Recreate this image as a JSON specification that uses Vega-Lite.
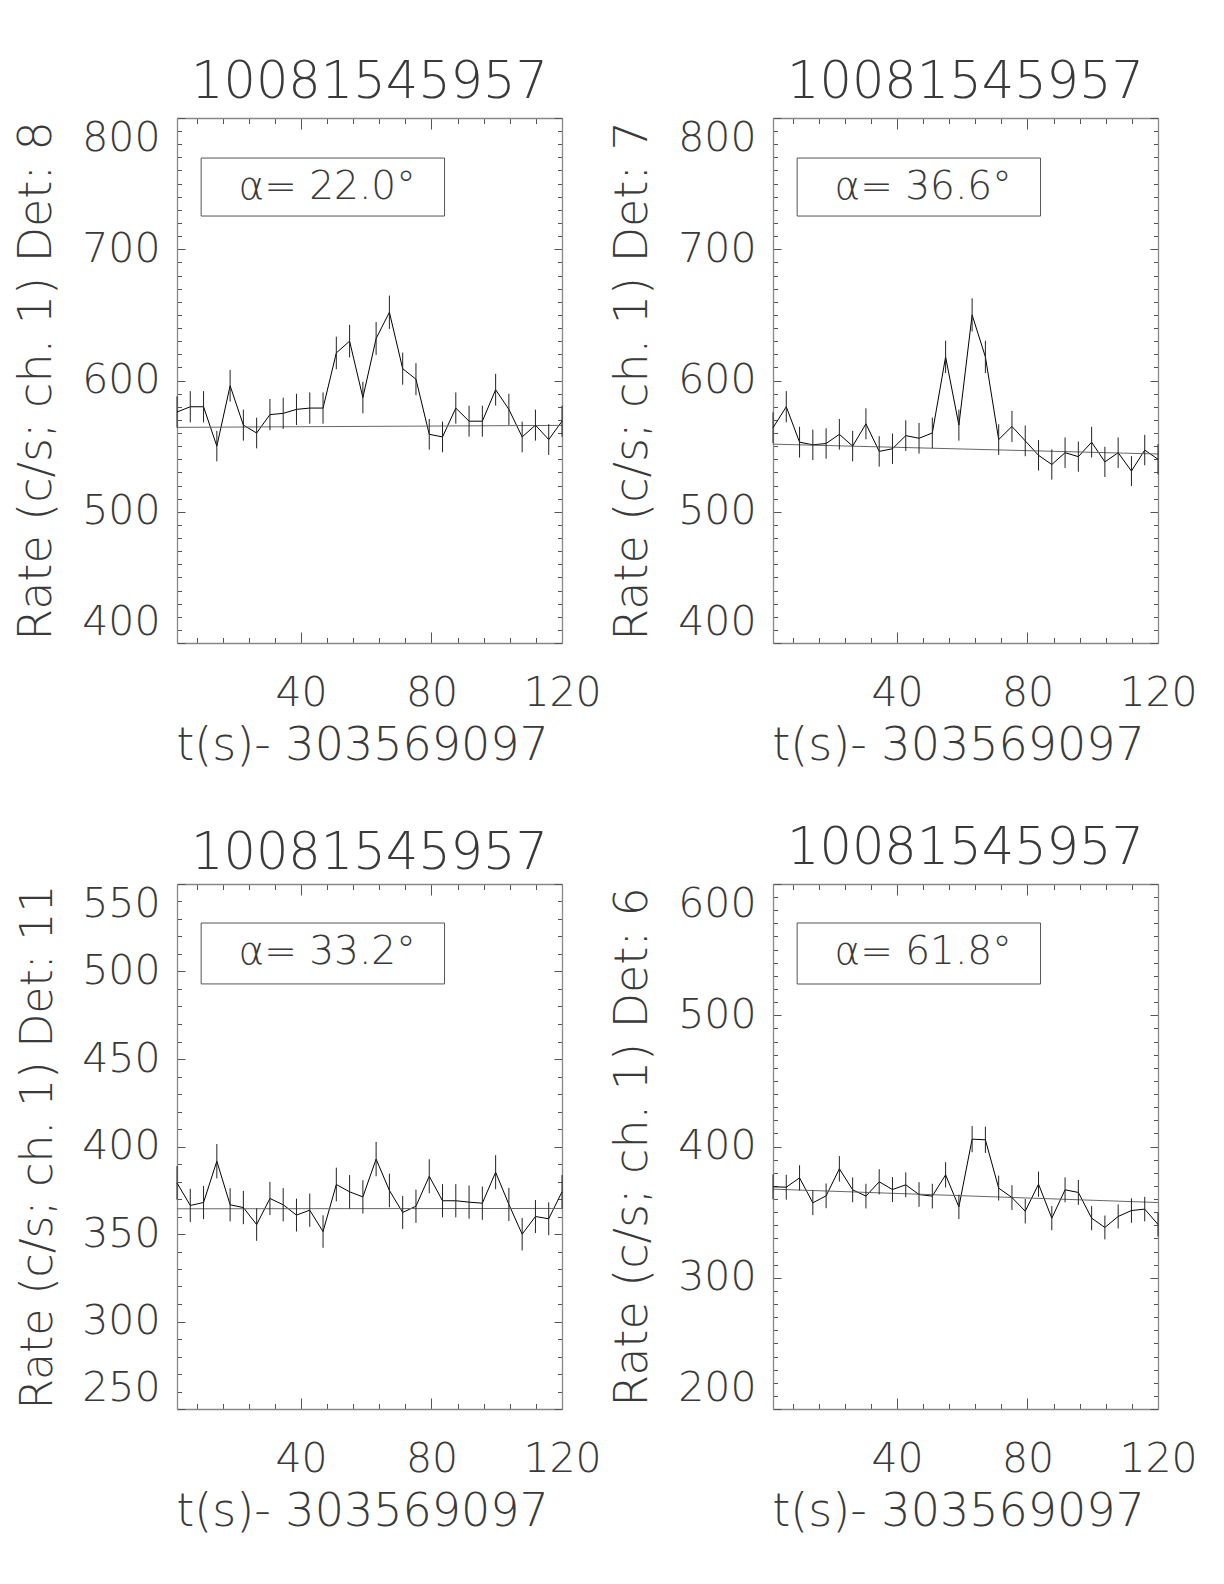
{
  "$schema": "https://vega.github.io/schema/vega-lite/v6.json",
  "padding": {"left": 13, "top": 57, "right": 5, "bottom": 5},
  "background": "white",
  "datasets": {
    "d8": [
      {"t": 2, "rate": 576, "err": 11.9}, {"t": 6.07, "rate": 580, "err": 11.9}, {"t": 10.14, "rate": 580, "err": 11.9},
      {"t": 14.21, "rate": 550, "err": 11.6}, {"t": 18.28, "rate": 596, "err": 12.1}, {"t": 22.34, "rate": 566, "err": 11.8},
      {"t": 26.41, "rate": 560, "err": 11.7}, {"t": 30.48, "rate": 574, "err": 11.9}, {"t": 34.55, "rate": 575, "err": 11.9},
      {"t": 38.62, "rate": 578, "err": 11.9}, {"t": 42.69, "rate": 579, "err": 11.9}, {"t": 46.76, "rate": 579, "err": 11.9},
      {"t": 50.83, "rate": 621, "err": 12.4}, {"t": 54.9, "rate": 630, "err": 12.4}, {"t": 58.97, "rate": 587, "err": 12.0},
      {"t": 63.03, "rate": 632, "err": 12.5}, {"t": 67.1, "rate": 652, "err": 12.7}, {"t": 71.17, "rate": 609, "err": 12.2},
      {"t": 75.24, "rate": 601, "err": 12.2}, {"t": 79.31, "rate": 559, "err": 11.7}, {"t": 83.38, "rate": 557, "err": 11.7},
      {"t": 87.45, "rate": 579, "err": 11.9}, {"t": 91.52, "rate": 569, "err": 11.8}, {"t": 95.59, "rate": 569, "err": 11.8},
      {"t": 99.66, "rate": 593, "err": 12.1}, {"t": 103.72, "rate": 578, "err": 11.9}, {"t": 107.79, "rate": 557, "err": 11.7},
      {"t": 111.86, "rate": 566, "err": 11.8}, {"t": 115.93, "rate": 555, "err": 11.7}, {"t": 120, "rate": 569, "err": 11.8}
    ],
    "d7": [
      {"t": 2, "rate": 564, "err": 11.8}, {"t": 6.07, "rate": 580, "err": 11.9}, {"t": 10.14, "rate": 553, "err": 11.7},
      {"t": 14.21, "rate": 551, "err": 11.6}, {"t": 18.28, "rate": 552, "err": 11.6}, {"t": 22.34, "rate": 559, "err": 11.7},
      {"t": 26.41, "rate": 550, "err": 11.6}, {"t": 30.48, "rate": 567, "err": 11.8}, {"t": 34.55, "rate": 546, "err": 11.6},
      {"t": 38.62, "rate": 548, "err": 11.6}, {"t": 42.69, "rate": 558, "err": 11.7}, {"t": 46.76, "rate": 556, "err": 11.7},
      {"t": 50.83, "rate": 560, "err": 11.7}, {"t": 54.9, "rate": 618, "err": 12.3}, {"t": 58.97, "rate": 566, "err": 11.8},
      {"t": 63.03, "rate": 650, "err": 12.6}, {"t": 67.1, "rate": 618, "err": 12.3}, {"t": 71.17, "rate": 555, "err": 11.7},
      {"t": 75.24, "rate": 565, "err": 11.8}, {"t": 79.31, "rate": 554, "err": 11.7}, {"t": 83.38, "rate": 543, "err": 11.6},
      {"t": 87.45, "rate": 536, "err": 11.5}, {"t": 91.52, "rate": 545, "err": 11.6}, {"t": 95.59, "rate": 542, "err": 11.5},
      {"t": 99.66, "rate": 553, "err": 11.7}, {"t": 103.72, "rate": 538, "err": 11.5}, {"t": 107.79, "rate": 545, "err": 11.6},
      {"t": 111.86, "rate": 531, "err": 11.4}, {"t": 115.93, "rate": 547, "err": 11.6}, {"t": 120, "rate": 540, "err": 11.5}
    ],
    "d11": [
      {"t": 2, "rate": 379.2, "err": 9.6}, {"t": 6.07, "rate": 366.3, "err": 9.5}, {"t": 10.14, "rate": 368.0, "err": 9.5},
      {"t": 14.21, "rate": 391.6, "err": 9.8}, {"t": 18.28, "rate": 366.7, "err": 9.5}, {"t": 22.34, "rate": 365.1, "err": 9.5},
      {"t": 26.41, "rate": 355.4, "err": 9.3}, {"t": 30.48, "rate": 370.3, "err": 9.5}, {"t": 34.55, "rate": 366.7, "err": 9.5},
      {"t": 38.62, "rate": 360.8, "err": 9.4}, {"t": 42.69, "rate": 363.6, "err": 9.5}, {"t": 46.76, "rate": 351.4, "err": 9.3},
      {"t": 50.83, "rate": 378.3, "err": 9.6}, {"t": 54.9, "rate": 374.1, "err": 9.6}, {"t": 58.97, "rate": 371.2, "err": 9.5},
      {"t": 63.03, "rate": 392.8, "err": 9.8}, {"t": 67.1, "rate": 374.9, "err": 9.6}, {"t": 71.17, "rate": 362.3, "err": 9.4},
      {"t": 75.24, "rate": 365.9, "err": 9.5}, {"t": 79.31, "rate": 383.0, "err": 9.7}, {"t": 83.38, "rate": 369.0, "err": 9.5},
      {"t": 87.45, "rate": 369.0, "err": 9.5}, {"t": 91.52, "rate": 368.2, "err": 9.5}, {"t": 95.59, "rate": 367.6, "err": 9.5},
      {"t": 99.66, "rate": 385.3, "err": 9.7}, {"t": 103.72, "rate": 366.9, "err": 9.5}, {"t": 107.79, "rate": 349.9, "err": 9.3},
      {"t": 111.86, "rate": 360.0, "err": 9.4}, {"t": 115.93, "rate": 358.7, "err": 9.4}, {"t": 120, "rate": 374.1, "err": 9.6}
    ],
    "d6": [
      {"t": 2, "rate": 369.3, "err": 9.5}, {"t": 6.07, "rate": 369.0, "err": 9.5}, {"t": 10.14, "rate": 376.1, "err": 9.6},
      {"t": 14.21, "rate": 357.1, "err": 9.4}, {"t": 18.28, "rate": 362.4, "err": 9.4}, {"t": 22.34, "rate": 383.0, "err": 9.7},
      {"t": 26.41, "rate": 367.0, "err": 9.5}, {"t": 30.48, "rate": 362.2, "err": 9.4}, {"t": 34.55, "rate": 373.1, "err": 9.6},
      {"t": 38.62, "rate": 367.2, "err": 9.5}, {"t": 42.69, "rate": 370.8, "err": 9.5}, {"t": 46.76, "rate": 363.4, "err": 9.4},
      {"t": 50.83, "rate": 362.2, "err": 9.4}, {"t": 54.9, "rate": 378.4, "err": 9.6}, {"t": 58.97, "rate": 354.0, "err": 9.3},
      {"t": 63.03, "rate": 405.6, "err": 10.0}, {"t": 67.1, "rate": 405.1, "err": 10.0}, {"t": 71.17, "rate": 368.3, "err": 9.5},
      {"t": 75.24, "rate": 361.1, "err": 9.4}, {"t": 79.31, "rate": 350.7, "err": 9.3}, {"t": 83.38, "rate": 371.3, "err": 9.6},
      {"t": 87.45, "rate": 345.4, "err": 9.2}, {"t": 91.52, "rate": 367.0, "err": 9.5}, {"t": 95.59, "rate": 365.0, "err": 9.5},
      {"t": 99.66, "rate": 345.4, "err": 9.2}, {"t": 103.72, "rate": 338.3, "err": 9.1}, {"t": 107.79, "rate": 346.7, "err": 9.2},
      {"t": 111.86, "rate": 351.2, "err": 9.3}, {"t": 115.93, "rate": 352.3, "err": 9.3}, {"t": 120, "rate": 340.6, "err": 9.1}
    ],
    "f8": [{"t": 2, "rate": 564.3}, {"t": 120, "rate": 565.8}],
    "f7": [{"t": 2, "rate": 551.5}, {"t": 120, "rate": 544.0}],
    "f11": [{"t": 2, "rate": 364.4}, {"t": 120, "rate": 364.6}],
    "f6": [{"t": 2, "rate": 367.5}, {"t": 120, "rate": 357.3}],
    "a8": [{"label": "α= 22.0°"}],
    "a7": [{"label": "α= 36.6°"}],
    "a11": [{"label": "α= 33.2°"}],
    "a6": [{"label": "α= 61.8°"}]
  },
  "columns": 2,
  "bounds": "flush",
  "spacing": {"row": 241, "column": 211},
  "concat": [
    {
      "width": 385, "height": 525,
      "title": "10081545957",
      "resolve": {"axis": {"x": "independent", "y": "independent"}},
      "layer": [
        {
          "data": {"name": "d8"},
          "mark": {"type": "line", "color": "#000000", "strokeWidth": 1},
          "encoding": {
            "x": {"field": "t", "type": "quantitative", "scale": {"domain": [2, 120], "nice": false, "zero": false},
              "axis": {"orient": "bottom", "values": [8,16,24,32,40,48,56,64,72,80,88,96,104,112,120],
                "labelExpr": "datum.value % 40 === 0 ? datum.label : ''", "title": "t(s)- 303569097",
                "tickSize": {"condition": {"test": "datum.value % 40 === 0", "value": -11}, "value": -5.5}}},
            "y": {"field": "rate", "type": "quantitative", "scale": {"domain": [400, 800], "nice": false, "zero": false},
              "axis": {"orient": "left", "values": [400,410,420,430,440,450,460,470,480,490,500,510,520,530,540,550,560,570,580,590,600,610,620,630,640,650,660,670,680,690,700,710,720,730,740,750,760,770,780,790,800],
                "labelExpr": "datum.value % 100 === 0 ? datum.label : ''", "title": "Rate (c/s; ch. 1) Det: 8",
                "tickSize": {"condition": {"test": "datum.value % 100 === 0", "value": -8}, "value": -4.5}}}
          }
        },
        {
          "data": {"name": "f8"},
          "mark": {"type": "line", "color": "#666666", "strokeWidth": 1},
          "encoding": {
            "x": {"field": "t", "type": "quantitative",
              "axis": {"orient": "top", "values": [8,16,24,32,40,48,56,64,72,80,88,96,104,112,120], "labels": false, "title": null,
                "tickSize": {"condition": {"test": "datum.value % 40 === 0", "value": -11}, "value": -5.5}}},
            "y": {"field": "rate", "type": "quantitative",
              "axis": {"orient": "right", "values": [400,410,420,430,440,450,460,470,480,490,500,510,520,530,540,550,560,570,580,590,600,610,620,630,640,650,660,670,680,690,700,710,720,730,740,750,760,770,780,790,800], "labels": false, "title": null,
                "tickSize": {"condition": {"test": "datum.value % 100 === 0", "value": -8}, "value": -4.5}}}
          }
        },
        {
          "data": {"name": "d8"},
          "mark": {"type": "errorbar", "color": "#222222", "thickness": 1},
          "encoding": {
            "x": {"field": "t", "type": "quantitative", "axis": null},
            "y": {"field": "rate", "type": "quantitative", "axis": null},
            "yError": {"field": "err"}
          }
        },
        {
          "data": {"name": "a8"},
          "mark": {"type": "rect", "fillOpacity": 0, "stroke": "#555555", "strokeWidth": 1},
          "encoding": {
            "x": {"datum": 9.4, "type": "quantitative", "axis": null}, "x2": {"datum": 84},
            "y": {"datum": 769.5, "type": "quantitative", "axis": null}, "y2": {"datum": 725.3}
          }
        },
        {
          "data": {"name": "a8"},
          "mark": {"type": "text", "font": "DejaVu Sans", "fontSize": 39, "fontWeight": 200, "color": "#3a3a3a", "align": "center", "baseline": "middle"},
          "encoding": {
            "x": {"datum": 48, "type": "quantitative", "axis": null},
            "y": {"datum": 747.4, "type": "quantitative", "axis": null},
            "text": {"field": "label"}
          }
        }
      ]
    },
    {
      "width": 385, "height": 525,
      "title": "10081545957",
      "resolve": {"axis": {"x": "independent", "y": "independent"}},
      "layer": [
        {
          "data": {"name": "d7"},
          "mark": {"type": "line", "color": "#000000", "strokeWidth": 1},
          "encoding": {
            "x": {"field": "t", "type": "quantitative", "scale": {"domain": [2, 120], "nice": false, "zero": false},
              "axis": {"orient": "bottom", "values": [8,16,24,32,40,48,56,64,72,80,88,96,104,112,120],
                "labelExpr": "datum.value % 40 === 0 ? datum.label : ''", "title": "t(s)- 303569097",
                "tickSize": {"condition": {"test": "datum.value % 40 === 0", "value": -11}, "value": -5.5}}},
            "y": {"field": "rate", "type": "quantitative", "scale": {"domain": [400, 800], "nice": false, "zero": false},
              "axis": {"orient": "left", "values": [400,410,420,430,440,450,460,470,480,490,500,510,520,530,540,550,560,570,580,590,600,610,620,630,640,650,660,670,680,690,700,710,720,730,740,750,760,770,780,790,800],
                "labelExpr": "datum.value % 100 === 0 ? datum.label : ''", "title": "Rate (c/s; ch. 1) Det: 7",
                "tickSize": {"condition": {"test": "datum.value % 100 === 0", "value": -8}, "value": -4.5}}}
          }
        },
        {
          "data": {"name": "f7"},
          "mark": {"type": "line", "color": "#666666", "strokeWidth": 1},
          "encoding": {
            "x": {"field": "t", "type": "quantitative",
              "axis": {"orient": "top", "values": [8,16,24,32,40,48,56,64,72,80,88,96,104,112,120], "labels": false, "title": null,
                "tickSize": {"condition": {"test": "datum.value % 40 === 0", "value": -11}, "value": -5.5}}},
            "y": {"field": "rate", "type": "quantitative",
              "axis": {"orient": "right", "values": [400,410,420,430,440,450,460,470,480,490,500,510,520,530,540,550,560,570,580,590,600,610,620,630,640,650,660,670,680,690,700,710,720,730,740,750,760,770,780,790,800], "labels": false, "title": null,
                "tickSize": {"condition": {"test": "datum.value % 100 === 0", "value": -8}, "value": -4.5}}}
          }
        },
        {
          "data": {"name": "d7"},
          "mark": {"type": "errorbar", "color": "#222222", "thickness": 1},
          "encoding": {
            "x": {"field": "t", "type": "quantitative", "axis": null},
            "y": {"field": "rate", "type": "quantitative", "axis": null},
            "yError": {"field": "err"}
          }
        },
        {
          "data": {"name": "a7"},
          "mark": {"type": "rect", "fillOpacity": 0, "stroke": "#555555", "strokeWidth": 1},
          "encoding": {
            "x": {"datum": 9.4, "type": "quantitative", "axis": null}, "x2": {"datum": 84},
            "y": {"datum": 769.5, "type": "quantitative", "axis": null}, "y2": {"datum": 725.3}
          }
        },
        {
          "data": {"name": "a7"},
          "mark": {"type": "text", "font": "DejaVu Sans", "fontSize": 39, "fontWeight": 200, "color": "#3a3a3a", "align": "center", "baseline": "middle"},
          "encoding": {
            "x": {"datum": 48, "type": "quantitative", "axis": null},
            "y": {"datum": 747.4, "type": "quantitative", "axis": null},
            "text": {"field": "label"}
          }
        }
      ]
    },
    {
      "width": 385, "height": 525,
      "title": "10081545957",
      "resolve": {"axis": {"x": "independent", "y": "independent"}},
      "layer": [
        {
          "data": {"name": "d11"},
          "mark": {"type": "line", "color": "#000000", "strokeWidth": 1},
          "encoding": {
            "x": {"field": "t", "type": "quantitative", "scale": {"domain": [2, 120], "nice": false, "zero": false},
              "axis": {"orient": "bottom", "values": [8,16,24,32,40,48,56,64,72,80,88,96,104,112,120],
                "labelExpr": "datum.value % 40 === 0 ? datum.label : ''", "title": "t(s)- 303569097",
                "tickSize": {"condition": {"test": "datum.value % 40 === 0", "value": -11}, "value": -5.5}}},
            "y": {"field": "rate", "type": "quantitative", "scale": {"domain": [250, 550], "nice": false, "zero": false},
              "axis": {"orient": "left", "values": [250,260,270,280,290,300,310,320,330,340,350,360,370,380,390,400,410,420,430,440,450,460,470,480,490,500,510,520,530,540,550],
                "labelExpr": "datum.value % 50 === 0 ? datum.label : ''", "title": "Rate (c/s; ch. 1) Det: 11", "titleFontSize": 44,
                "tickSize": {"condition": {"test": "datum.value % 50 === 0", "value": -8}, "value": -4.5}}}
          }
        },
        {
          "data": {"name": "f11"},
          "mark": {"type": "line", "color": "#666666", "strokeWidth": 1},
          "encoding": {
            "x": {"field": "t", "type": "quantitative",
              "axis": {"orient": "top", "values": [8,16,24,32,40,48,56,64,72,80,88,96,104,112,120], "labels": false, "title": null,
                "tickSize": {"condition": {"test": "datum.value % 40 === 0", "value": -11}, "value": -5.5}}},
            "y": {"field": "rate", "type": "quantitative",
              "axis": {"orient": "right", "values": [250,260,270,280,290,300,310,320,330,340,350,360,370,380,390,400,410,420,430,440,450,460,470,480,490,500,510,520,530,540,550], "labels": false, "title": null,
                "tickSize": {"condition": {"test": "datum.value % 50 === 0", "value": -8}, "value": -4.5}}}
          }
        },
        {
          "data": {"name": "d11"},
          "mark": {"type": "errorbar", "color": "#222222", "thickness": 1},
          "encoding": {
            "x": {"field": "t", "type": "quantitative", "axis": null},
            "y": {"field": "rate", "type": "quantitative", "axis": null},
            "yError": {"field": "err"}
          }
        },
        {
          "data": {"name": "a11"},
          "mark": {"type": "rect", "fillOpacity": 0, "stroke": "#555555", "strokeWidth": 1},
          "encoding": {
            "x": {"datum": 9.4, "type": "quantitative", "axis": null}, "x2": {"datum": 84},
            "y": {"datum": 527.7, "type": "quantitative", "axis": null}, "y2": {"datum": 492.9}
          }
        },
        {
          "data": {"name": "a11"},
          "mark": {"type": "text", "font": "DejaVu Sans", "fontSize": 39, "fontWeight": 200, "color": "#3a3a3a", "align": "center", "baseline": "middle"},
          "encoding": {
            "x": {"datum": 48, "type": "quantitative", "axis": null},
            "y": {"datum": 511, "type": "quantitative", "axis": null},
            "text": {"field": "label"}
          }
        }
      ]
    },
    {
      "width": 385, "height": 525,
      "title": "10081545957",
      "resolve": {"axis": {"x": "independent", "y": "independent"}},
      "layer": [
        {
          "data": {"name": "d6"},
          "mark": {"type": "line", "color": "#000000", "strokeWidth": 1},
          "encoding": {
            "x": {"field": "t", "type": "quantitative", "scale": {"domain": [2, 120], "nice": false, "zero": false},
              "axis": {"orient": "bottom", "values": [8,16,24,32,40,48,56,64,72,80,88,96,104,112,120],
                "labelExpr": "datum.value % 40 === 0 ? datum.label : ''", "title": "t(s)- 303569097",
                "tickSize": {"condition": {"test": "datum.value % 40 === 0", "value": -11}, "value": -5.5}}},
            "y": {"field": "rate", "type": "quantitative", "scale": {"domain": [200, 600], "nice": false, "zero": false},
              "axis": {"orient": "left", "values": [200,210,220,230,240,250,260,270,280,290,300,310,320,330,340,350,360,370,380,390,400,410,420,430,440,450,460,470,480,490,500,510,520,530,540,550,560,570,580,590,600],
                "labelExpr": "datum.value % 100 === 0 ? datum.label : ''", "title": "Rate (c/s; ch. 1) Det: 6",
                "tickSize": {"condition": {"test": "datum.value % 100 === 0", "value": -8}, "value": -4.5}}}
          }
        },
        {
          "data": {"name": "f6"},
          "mark": {"type": "line", "color": "#666666", "strokeWidth": 1},
          "encoding": {
            "x": {"field": "t", "type": "quantitative",
              "axis": {"orient": "top", "values": [8,16,24,32,40,48,56,64,72,80,88,96,104,112,120], "labels": false, "title": null,
                "tickSize": {"condition": {"test": "datum.value % 40 === 0", "value": -11}, "value": -5.5}}},
            "y": {"field": "rate", "type": "quantitative",
              "axis": {"orient": "right", "values": [200,210,220,230,240,250,260,270,280,290,300,310,320,330,340,350,360,370,380,390,400,410,420,430,440,450,460,470,480,490,500,510,520,530,540,550,560,570,580,590,600], "labels": false, "title": null,
                "tickSize": {"condition": {"test": "datum.value % 100 === 0", "value": -8}, "value": -4.5}}}
          }
        },
        {
          "data": {"name": "d6"},
          "mark": {"type": "errorbar", "color": "#222222", "thickness": 1},
          "encoding": {
            "x": {"field": "t", "type": "quantitative", "axis": null},
            "y": {"field": "rate", "type": "quantitative", "axis": null},
            "yError": {"field": "err"}
          }
        },
        {
          "data": {"name": "a6"},
          "mark": {"type": "rect", "fillOpacity": 0, "stroke": "#555555", "strokeWidth": 1},
          "encoding": {
            "x": {"datum": 9.4, "type": "quantitative", "axis": null}, "x2": {"datum": 84},
            "y": {"datum": 570.3, "type": "quantitative", "axis": null}, "y2": {"datum": 523.8}
          }
        },
        {
          "data": {"name": "a6"},
          "mark": {"type": "text", "font": "DejaVu Sans", "fontSize": 39, "fontWeight": 200, "color": "#3a3a3a", "align": "center", "baseline": "middle"},
          "encoding": {
            "x": {"datum": 48, "type": "quantitative", "axis": null},
            "y": {"datum": 548.2, "type": "quantitative", "axis": null},
            "text": {"field": "label"}
          }
        }
      ]
    }
  ],
  "config": {
    "view": {"stroke": null},
    "font": "DejaVu Sans",
    "axis": {
      "grid": false, "domainColor": "#888888", "domainWidth": 1.3, "tickColor": "#555555", "tickWidth": 1,
      "labelFont": "DejaVu Sans", "labelFontSize": 41, "labelFontWeight": 200, "labelColor": "#3a3a3a",
      "titleFont": "DejaVu Sans", "titleFontSize": 46, "titleFontWeight": 200, "titleColor": "#3a3a3a",
      "labelOverlap": false, "labelBound": false
    },
    "axisX": {"labelPadding": 41, "titlePadding": 5, "labelFlush": false, "titleX": 185},
    "axisY": {"labelPadding": 25, "titlePadding": 21, "labelFlush": true},
    "title": {"font": "DejaVu Sans", "fontSize": 51, "fontWeight": 200, "color": "#3a3a3a", "offset": 1, "anchor": "middle"}
  }
}
